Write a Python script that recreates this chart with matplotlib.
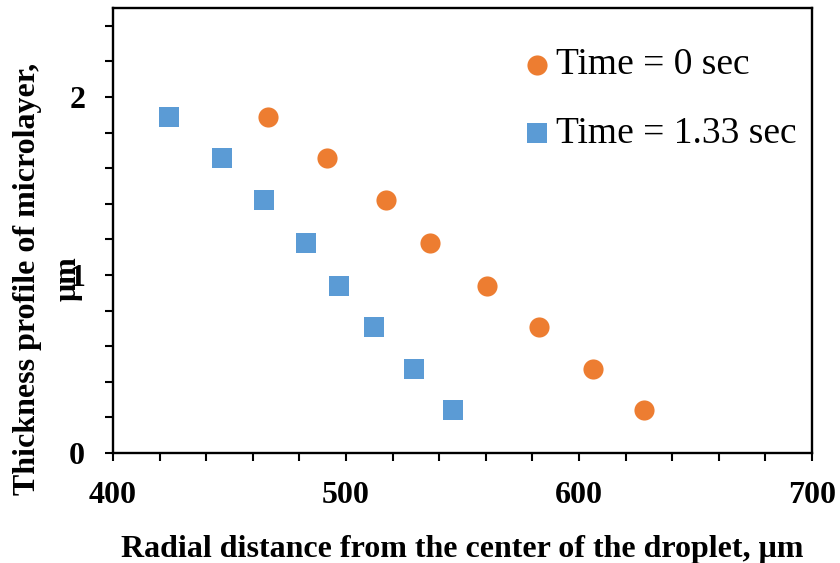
import matplotlib
matplotlib.use("Agg")
import matplotlib.pyplot as plt
from matplotlib.ticker import MultipleLocator

# Data
x_t0 = [466.5, 492, 517, 536, 560.5, 583, 606, 628]
x_t133 = [424, 447, 465, 483, 497, 512, 529, 546]
thickness = [1.89, 1.66, 1.42, 1.18, 0.94, 0.71, 0.47, 0.24]

label_t0 = "Time = 0 sec"
label_t133 = "Time = 1.33 sec"
xlabel = "Radial distance from the center of the droplet, \u03bcm"
ylabel_1 = "Thickness profile of microlayer,"
ylabel_2 = "\u03bcm"

plt.rcParams['font.family'] = ['Liberation Serif', 'DejaVu Serif']

fig = plt.figure(figsize=(8.4, 5.63), dpi=100)
ax = fig.add_axes([0.1345, 0.1954, 0.8322, 0.7904])

ax.scatter(x_t0, thickness, s=14.5**2, marker='o', color='#ED7D31',
           linewidths=0, label=label_t0, zorder=3)
ax.scatter(x_t133, thickness, s=14.5**2, marker='s', color='#5B9BD5',
           linewidths=0, label=label_t133, zorder=3)

ax.set_xlim(400, 700)
ax.set_ylim(0, 2.5)
ax.xaxis.set_major_locator(MultipleLocator(100))
ax.xaxis.set_minor_locator(MultipleLocator(20))
ax.yaxis.set_major_locator(MultipleLocator(1))
ax.yaxis.set_minor_locator(MultipleLocator(0.2))
ax.tick_params(axis='both', which='both', direction='out', length=6,
               width=1.5, labelsize=23)
ax.tick_params(axis='x', pad=14)
ax.tick_params(axis='y', pad=14)
for lab in ax.get_xticklabels() + ax.get_yticklabels():
    lab.set_fontweight('bold')
for sp in ax.spines.values():
    sp.set_linewidth(1.7)

ax.set_xlabel(xlabel, fontsize=23, fontweight='bold', labelpad=18)

# y label wraps onto two lines like the original
ax.text(-0.1216, 0.391, ylabel_1, transform=ax.transAxes, rotation=90,
        ha='center', va='center', fontsize=23, fontweight='bold')
ax.text(-0.0644, 0.391, ylabel_2, transform=ax.transAxes, rotation=90,
        ha='center', va='center', fontsize=23, fontweight='bold')

leg = ax.legend(loc='upper left', bbox_to_anchor=(0.564, 0.944), frameon=False,
                fontsize=27, handletextpad=0.1, labelspacing=0.91,
                borderaxespad=0, handlelength=0.8)

fig.savefig("out.png", dpi=100)
